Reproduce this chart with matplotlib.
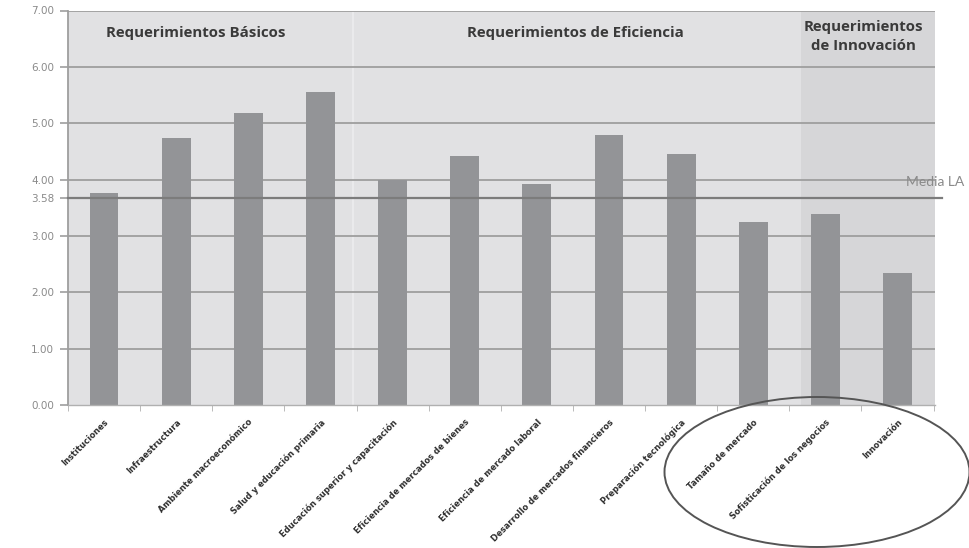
import matplotlib
matplotlib.use("Agg")
import matplotlib.pyplot as plt
from matplotlib.patches import Ellipse
import numpy as np

plt.rcParams["font.family"] = ["DejaVu Sans"]

categories = [
    "Instituciones", "Infraestructura", "Ambiente macroeconómico",
    "Salud y educación primaria", "Educación superior y capacitación",
    "Eficiencia de mercados de bienes", "Eficiencia de mercado laboral",
    "Desarrollo de mercados financieros", "Preparación tecnológica",
    "Tamaño de mercado", "Sofisticación de los negocios", "Innovación",
]
values = [3.76, 4.74, 5.18, 5.55, 3.99, 4.41, 3.92, 4.79, 4.45, 3.24, 3.39, 2.35]
media_la_value = 3.67
media_la_label = "3.58"
media_la_text = "Media LA"
yticks = [0, 1, 2, 3, 4, 5, 6, 7]
group_labels = ["Requerimientos Básicos", "Requerimientos de Eficiencia",
                "Requerimientos\nde Innovación"]

fig = plt.figure(figsize=(9.7, 5.48), dpi=100)
ax = fig.add_axes([68/970, 1-405/548, (935-68)/970, (405-10.5)/548])

x = np.arange(len(categories))
ax.set_xlim(-0.5, 11.52)
ax.set_ylim(0, 7)

bg = "#e1e1e3"
bg_dark = "#d6d6d8"
ax.set_facecolor(bg)
ax.axvspan(9.66, 11.52, color=bg_dark, zorder=0, lw=0)
ax.axvline(3.45, color="#ececee", lw=1.2, zorder=0.5)

for yv in yticks[1:]:
    ax.axhline(yv, color="#9e9e9e", lw=1.3, zorder=1)

ax.bar(x, values, width=0.40, color="#939497", zorder=2)

ax.plot([-0.5, 11.62], [media_la_value, media_la_value], color="#7c7c7c", lw=1.6,
        zorder=3, clip_on=False)
ax.text(11.12, media_la_value + 0.28, media_la_text, color="#8a8a8a", fontsize=10,
        family="Lato", ha="left", va="center", clip_on=False, zorder=4)

# group headers
hdr = dict(fontweight="bold", color="#3a3a3a", ha="center", va="center",
           family="Open Sans", fontsize=10.8)
ax.text(1.27, 6.60, group_labels[0], **hdr)
ax.text(6.54, 6.60, group_labels[1], **hdr)
ax.text(10.53, 6.54, group_labels[2], linespacing=1.45, **hdr)

ytick_pos = yticks + [media_la_value]
ytick_lab = [f"{v:.2f}" for v in yticks] + [media_la_label]
ax.set_yticks(ytick_pos)
ax.set_yticklabels(ytick_lab, fontsize=7.5, color="#8a8a8a")
ax.tick_params(axis="y", length=6, color="#9e9e9e", width=1.2, pad=4)

ax.set_xticks(x)
ax.set_xticklabels(categories, rotation=45, ha="right", rotation_mode="anchor",
                   fontsize=6, fontweight="bold", color="#2e2e2e")
ax.tick_params(axis="x", length=0, pad=9)
ax.set_xticks(np.arange(-0.5, 11.6, 1), minor=True)
ax.tick_params(axis="x", which="minor", length=4, color="#b0b0b0")

for s in ["top", "right"]:
    ax.spines[s].set_visible(False)
ax.spines["left"].set_color("#9e9e9e")
ax.spines["left"].set_linewidth(1.3)
ax.spines["bottom"].set_color("#b0b0b0")
ax.spines["bottom"].set_linewidth(1.0)

ell = Ellipse((817/970, 1-472/548), 305/970, 150/548, transform=fig.transFigure,
              fill=False, edgecolor="#555555", lw=1.4, zorder=5)
fig.patches.append(ell)

fig.savefig("out.png", dpi=100)
